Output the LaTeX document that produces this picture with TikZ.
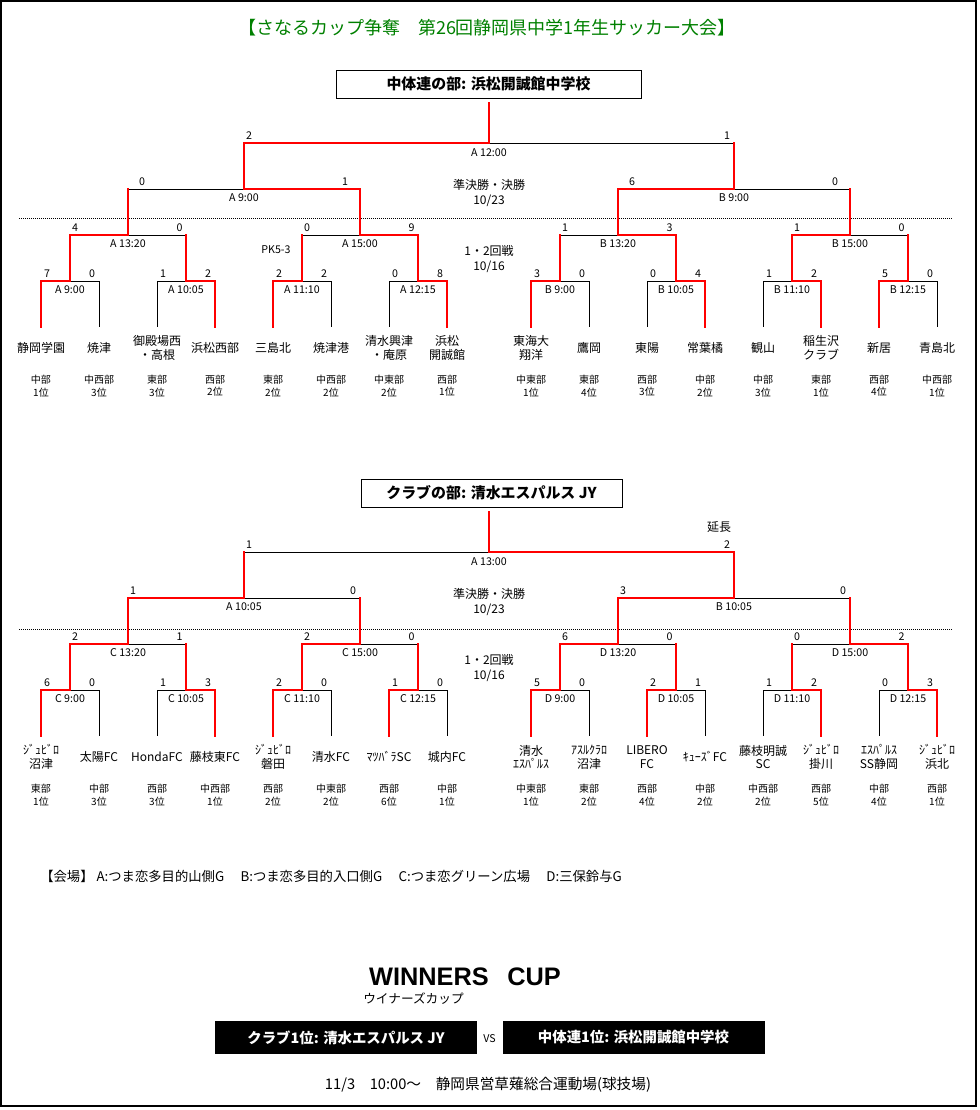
\documentclass[tikz,border=0pt]{standalone}
\usepackage{fontspec}
\setmainfont{Noto Sans CJK JP}
\newfontfamily\latinfont{Liberation Sans}
\usepackage[dvipsnames]{xcolor}
\usepackage{tikz}
\definecolor{pathred}{RGB}{255,0,0}
\definecolor{titlegreen}{RGB}{0,128,0}

\begin{document}
\begin{tikzpicture}[x=0.75pt,y=0.75pt,yscale=-1,xscale=1,
  lost/.style={draw=black, line width=0.75pt},
  won/.style={draw=pathred, line width=1.7pt, line cap=rect},
  score/.style={anchor=south, inner sep=0.75pt, font=\fontsize{8}{8}\selectfont},
  slot/.style={inner sep=0.75pt, font=\fontsize{8}{8}\selectfont},
  team/.style={align=center, inner sep=0.75pt, font=\fontsize{9}{10.2}\selectfont},
  area/.style={align=center, inner sep=0.75pt, font=\fontsize{7.5}{9.3}\selectfont},
  round/.style={align=center, inner sep=0.75pt, font=\fontsize{9}{11.5}\selectfont},
  headbox/.style={draw, line width=0.75pt, inner sep=0pt, minimum height=21pt, font=\bfseries\fontsize{11.2}{11.2}\selectfont},
  cupbox/.style={fill=black, text=white, inner sep=0pt, minimum height=24.75pt, font=\bfseries\fontsize{10.8}{10.8}\selectfont},
  ]
\useasboundingbox (0,0) rectangle (980,1110);
%frame
\draw [line width=1.5pt] (1,1) rectangle (976,1106);

% Text Node
\node [text=titlegreen, font=\fontsize{13.5}{13.5}\selectfont] (title) at (487,28) {【さなるカップ争奪　第26回静岡県中学1年生サッカー大会】};

%%%%%%%%%%%%%%%%%%%%%%%% 中体連の部
\node [headbox, minimum width=228.75pt] (chubox) at (488.5,84) {中体連の部: 浜松開誠館中学校};
%Dotted Line
\draw [line width=0.75pt, dash pattern=on 0.75pt off 0.75pt] (19,218) -- (952,218);

%Straight Lines: beaten halves
\draw [lost] (70,281) -- (99,281) -- (99,327);
\draw [lost] (186,281) -- (157,281) -- (157,327);
\draw [lost] (302,281) -- (331,281) -- (331,327);
\draw [lost] (418,281) -- (389,281) -- (389,327);
\draw [lost] (560,281) -- (589,281) -- (589,327);
\draw [lost] (676,281) -- (647,281) -- (647,327);
\draw [lost] (792,281) -- (763,281) -- (763,327);
\draw [lost] (908,281) -- (937,281) -- (937,327);
\draw [lost] (128,235) -- (186,235);
\draw [lost] (360,235) -- (302,235);
\draw [lost] (618,235) -- (560,235);
\draw [lost] (850,235) -- (908,235);
\draw [lost] (244,189) -- (128,189);
\draw [lost] (734,189) -- (850,189);
\draw [lost] (489,143) -- (734,143);
%Straight Lines: winning paths
\draw [won] (41,327) -- (41,281) -- (70,281) -- (70,235);
\draw [won] (215,327) -- (215,281) -- (186,281) -- (186,235);
\draw [won] (273,327) -- (273,281) -- (302,281) -- (302,235);
\draw [won] (447,327) -- (447,281) -- (418,281) -- (418,235);
\draw [won] (531,327) -- (531,281) -- (560,281) -- (560,235);
\draw [won] (705,327) -- (705,281) -- (676,281) -- (676,235);
\draw [won] (821,327) -- (821,281) -- (792,281) -- (792,235);
\draw [won] (879,327) -- (879,281) -- (908,281) -- (908,235);
\draw [won] (70,235) -- (128,235) -- (128,189);
\draw [won] (418,235) -- (360,235) -- (360,189);
\draw [won] (676,235) -- (618,235) -- (618,189);
\draw [won] (792,235) -- (850,235) -- (850,189);
\draw [won] (360,189) -- (244,189) -- (244,143);
\draw [won] (618,189) -- (734,189) -- (734,143);
\draw [won] (244,143) -- (489,143) -- (489,103);

% Text Node: scores
\node [score] (ja1) at (47,279) {7};   \node [score] (jb1) at (92,279) {0};
\node [score] (ja2) at (163,279) {1};  \node [score] (jb2) at (208,279) {2};
\node [score] (ja3) at (279,279) {2};  \node [score] (jb3) at (324,279) {2};
\node [score] (ja4) at (395,279) {0};  \node [score] (jb4) at (440,279) {8};
\node [score] (ja5) at (537,279) {3};  \node [score] (jb5) at (582,279) {0};
\node [score] (ja6) at (653,279) {0};  \node [score] (jb6) at (698,279) {4};
\node [score] (ja7) at (769,279) {1};  \node [score] (jb7) at (814,279) {2};
\node [score] (ja8) at (885,279) {5};  \node [score] (jb8) at (930,279) {0};
\node [score] (ja9) at (75,233) {4};   \node [score] (jb9) at (179.5,233) {0};
\node [score] (ja10) at (307,233) {0}; \node [score] (jb10) at (411.5,233) {9};
\node [score] (ja11) at (565,233) {1}; \node [score] (jb11) at (669.5,233) {3};
\node [score] (ja12) at (797,233) {1}; \node [score] (jb12) at (901.5,233) {0};
\node [score] (ja13) at (142,187) {0}; \node [score] (jb13) at (345,187) {1};
\node [score] (ja14) at (632,187) {6}; \node [score] (jb14) at (835,187) {0};
\node [score] (ja15) at (249,141) {2}; \node [score] (jb15) at (727,141) {1};
\node [slot] (jpk) at (276,250) {PK5-3};

% Text Node: venues and kick-off
\node [slot] (jm1) at (70,290) {A 9:00};
\node [slot] (jm2) at (186,290) {A 10:05};
\node [slot] (jm3) at (302,290) {A 11:10};
\node [slot] (jm4) at (418,290) {A 12:15};
\node [slot] (jm5) at (560,290) {B 9:00};
\node [slot] (jm6) at (676,290) {B 10:05};
\node [slot] (jm7) at (792,290) {B 11:10};
\node [slot] (jm8) at (908,290) {B 12:15};
\node [slot] (jm9) at (128,244) {A 13:20};
\node [slot] (jm10) at (360,244) {A 15:00};
\node [slot] (jm11) at (618,244) {B 13:20};
\node [slot] (jm12) at (850,244) {B 15:00};
\node [slot] (jm13) at (244,198) {A 9:00};
\node [slot] (jm14) at (734,198) {B 9:00};
\node [slot] (jm15) at (489,153) {A 12:00};
\node [round] (jday2) at (489,193) {準決勝・決勝\\10/23};
\node [round] (jday1) at (489,259) {1・2回戦\\10/16};

% Text Node: teams
\node [team] (jt1) at (41,348) {静岡学園};
\node [team] (jt2) at (99,348) {焼津};
\node [team] (jt3) at (157,348) {御殿場西\\・高根};
\node [team] (jt4) at (215,348) {浜松西部};
\node [team] (jt5) at (273,348) {三島北};
\node [team] (jt6) at (331,348) {焼津港};
\node [team] (jt7) at (389,348) {清水興津\\・庵原};
\node [team] (jt8) at (447,348) {浜松\\開誠館};
\node [team] (jt9) at (531,348) {東海大\\翔洋};
\node [team] (jt10) at (589,348) {鷹岡};
\node [team] (jt11) at (647,348) {東陽};
\node [team] (jt12) at (705,348) {常葉橘};
\node [team] (jt13) at (763,348) {観山};
\node [team] (jt14) at (821,348) {稲生沢\\クラブ};
\node [team] (jt15) at (879,348) {新居};
\node [team] (jt16) at (937,348) {青島北};
\node [area] (jr1) at (41,386) {中部\\1位};
\node [area] (jr2) at (99,386) {中西部\\3位};
\node [area] (jr3) at (157,386) {東部\\3位};
\node [area] (jr4) at (215,386) {西部\\2位};
\node [area] (jr5) at (273,386) {東部\\2位};
\node [area] (jr6) at (331,386) {中西部\\2位};
\node [area] (jr7) at (389,386) {中東部\\2位};
\node [area] (jr8) at (447,386) {西部\\1位};
\node [area] (jr9) at (531,386) {中東部\\1位};
\node [area] (jr10) at (589,386) {東部\\4位};
\node [area] (jr11) at (647,386) {西部\\3位};
\node [area] (jr12) at (705,386) {中部\\2位};
\node [area] (jr13) at (763,386) {中部\\3位};
\node [area] (jr14) at (821,386) {東部\\1位};
\node [area] (jr15) at (879,386) {西部\\4位};
\node [area] (jr16) at (937,386) {中西部\\1位};

%%%%%%%%%%%%%%%%%%%%%%%% クラブの部
\node [headbox, minimum width=195.75pt] (clubbox) at (491.5,493) {クラブの部: 清水エスパルス JY};
%Dotted Line
\draw [line width=0.75pt, dash pattern=on 0.75pt off 0.75pt] (19,629) -- (952,629);

%Straight Lines: beaten halves
\draw [lost] (70,690) -- (99,690) -- (99,736);
\draw [lost] (186,690) -- (157,690) -- (157,736);
\draw [lost] (302,690) -- (331,690) -- (331,736);
\draw [lost] (418,690) -- (447,690) -- (447,736);
\draw [lost] (560,690) -- (589,690) -- (589,736);
\draw [lost] (676,690) -- (705,690) -- (705,736);
\draw [lost] (792,690) -- (763,690) -- (763,736);
\draw [lost] (908,690) -- (879,690) -- (879,736);
\draw [lost] (128,644) -- (186,644);
\draw [lost] (360,644) -- (418,644);
\draw [lost] (618,644) -- (676,644);
\draw [lost] (850,644) -- (792,644);
\draw [lost] (244,598) -- (360,598);
\draw [lost] (734,598) -- (850,598);
\draw [lost] (489,552) -- (244,552);
%Straight Lines: winning paths
\draw [won] (41,736) -- (41,690) -- (70,690) -- (70,644);
\draw [won] (215,736) -- (215,690) -- (186,690) -- (186,644);
\draw [won] (273,736) -- (273,690) -- (302,690) -- (302,644);
\draw [won] (389,736) -- (389,690) -- (418,690) -- (418,644);
\draw [won] (531,736) -- (531,690) -- (560,690) -- (560,644);
\draw [won] (647,736) -- (647,690) -- (676,690) -- (676,644);
\draw [won] (821,736) -- (821,690) -- (792,690) -- (792,644);
\draw [won] (937,736) -- (937,690) -- (908,690) -- (908,644);
\draw [won] (70,644) -- (128,644) -- (128,598);
\draw [won] (302,644) -- (360,644) -- (360,598);
\draw [won] (560,644) -- (618,644) -- (618,598);
\draw [won] (908,644) -- (850,644) -- (850,598);
\draw [won] (128,598) -- (244,598) -- (244,552);
\draw [won] (618,598) -- (734,598) -- (734,552);
\draw [won] (734,552) -- (489,552) -- (489,512);

% Text Node: scores
\node [score] (ka1) at (47,688) {6};   \node [score] (kb1) at (92,688) {0};
\node [score] (ka2) at (163,688) {1};  \node [score] (kb2) at (208,688) {3};
\node [score] (ka3) at (279,688) {2};  \node [score] (kb3) at (324,688) {0};
\node [score] (ka4) at (395,688) {1};  \node [score] (kb4) at (440,688) {0};
\node [score] (ka5) at (537,688) {5};  \node [score] (kb5) at (582,688) {0};
\node [score] (ka6) at (653,688) {2};  \node [score] (kb6) at (698,688) {1};
\node [score] (ka7) at (769,688) {1};  \node [score] (kb7) at (814,688) {2};
\node [score] (ka8) at (885,688) {0};  \node [score] (kb8) at (930,688) {3};
\node [score] (ka9) at (75,642) {2};   \node [score] (kb9) at (179.5,642) {1};
\node [score] (ka10) at (307,642) {2}; \node [score] (kb10) at (411.5,642) {0};
\node [score] (ka11) at (565,642) {6}; \node [score] (kb11) at (669.5,642) {0};
\node [score] (ka12) at (797,642) {0}; \node [score] (kb12) at (901.5,642) {2};
\node [score] (ka13) at (133,596) {1}; \node [score] (kb13) at (353,596) {0};
\node [score] (ka14) at (623,596) {3}; \node [score] (kb14) at (843,596) {0};
\node [score] (ka15) at (249,550) {1}; \node [score] (kb15) at (727,550) {2};
\node [team] (kext) at (719,527) {延長};

% Text Node: venues and kick-off
\node [slot] (km1) at (70,699) {C 9:00};
\node [slot] (km2) at (186,699) {C 10:05};
\node [slot] (km3) at (302,699) {C 11:10};
\node [slot] (km4) at (418,699) {C 12:15};
\node [slot] (km5) at (560,699) {D 9:00};
\node [slot] (km6) at (676,699) {D 10:05};
\node [slot] (km7) at (792,699) {D 11:10};
\node [slot] (km8) at (908,699) {D 12:15};
\node [slot] (km9) at (128,653) {C 13:20};
\node [slot] (km10) at (360,653) {C 15:00};
\node [slot] (km11) at (618,653) {D 13:20};
\node [slot] (km12) at (850,653) {D 15:00};
\node [slot] (km13) at (244,607) {A 10:05};
\node [slot] (km14) at (734,607) {B 10:05};
\node [slot] (km15) at (489,562) {A 13:00};
\node [round] (kday2) at (489,602) {準決勝・決勝\\10/23};
\node [round] (kday1) at (489,668) {1・2回戦\\10/16};

% Text Node: teams
\node [team] (kt1) at (41,757) {ｼﾞｭﾋﾞﾛ\\沼津};
\node [team] (kt2) at (99,757) {太陽FC};
\node [team] (kt3) at (157,757) {HondaFC};
\node [team] (kt4) at (215,757) {藤枝東FC};
\node [team] (kt5) at (273,757) {ｼﾞｭﾋﾞﾛ\\磐田};
\node [team] (kt6) at (331,757) {清水FC};
\node [team] (kt7) at (389,757) {ﾏﾂﾊﾞﾗSC};
\node [team] (kt8) at (447,757) {城内FC};
\node [team] (kt9) at (531,757) {清水\\ｴｽﾊﾟﾙｽ};
\node [team] (kt10) at (589,757) {ｱｽﾙｸﾗﾛ\\沼津};
\node [team] (kt11) at (647,757) {LIBERO\\FC};
\node [team] (kt12) at (705,757) {ｷｭｰｽﾞFC};
\node [team] (kt13) at (763,757) {藤枝明誠\\SC};
\node [team] (kt14) at (821,757) {ｼﾞｭﾋﾞﾛ\\掛川};
\node [team] (kt15) at (879,757) {ｴｽﾊﾟﾙｽ\\SS静岡};
\node [team] (kt16) at (937,757) {ｼﾞｭﾋﾞﾛ\\浜北};
\node [area] (kr1) at (41,795) {東部\\1位};
\node [area] (kr2) at (99,795) {中部\\3位};
\node [area] (kr3) at (157,795) {西部\\3位};
\node [area] (kr4) at (215,795) {中西部\\1位};
\node [area] (kr5) at (273,795) {西部\\2位};
\node [area] (kr6) at (331,795) {中東部\\2位};
\node [area] (kr7) at (389,795) {西部\\6位};
\node [area] (kr8) at (447,795) {中部\\1位};
\node [area] (kr9) at (531,795) {中東部\\1位};
\node [area] (kr10) at (589,795) {東部\\2位};
\node [area] (kr11) at (647,795) {西部\\4位};
\node [area] (kr12) at (705,795) {中部\\2位};
\node [area] (kr13) at (763,795) {中西部\\2位};
\node [area] (kr14) at (821,795) {西部\\5位};
\node [area] (kr15) at (879,795) {中部\\4位};
\node [area] (kr16) at (937,795) {西部\\1位};

%%%%%%%%%%%%%%%%%%%%%%%% 会場 / WINNERS CUP
\node [anchor=west, inner sep=0pt, font=\fontsize{10}{10}\selectfont] (venues) at (40,876) {【会場】 A:つま恋多目的山側G\quad\ B:つま恋多目的入口側G\quad\ C:つま恋グリーン広場\quad\ D:三保鈴与G};
\node [font=\latinfont\bfseries\fontsize{19}{19}\selectfont] (cup) at (465,977) {WINNERS\hspace{14pt}CUP};
\node [anchor=west, inner sep=0pt, font=\fontsize{9.5}{9.5}\selectfont] (cupkana) at (363,999) {ウイナーズカップ};
\node [cupbox, minimum width=196pt] (clubwin) at (346,1037.5) {クラブ1位: 清水エスパルス JY};
\node [slot] (vs) at (489.5,1039) {VS};
\node [cupbox, minimum width=196.5pt] (chuwin) at (633.5,1037.5) {中体連1位: 浜松開誠館中学校};
\node [font=\fontsize{11}{11}\selectfont] (cupday) at (488,1085) {11/3\quad 10:00～\quad 静岡県営草薙総合運動場(球技場)};

\end{tikzpicture}
\end{document}
